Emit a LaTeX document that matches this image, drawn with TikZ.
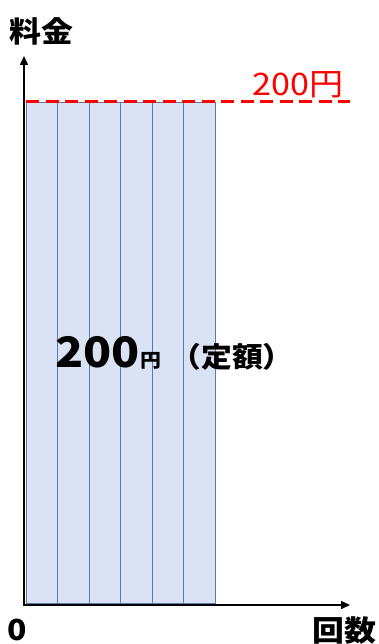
\documentclass[tikz,border=0pt]{standalone}
\usepackage{fontspec}
\setmainfont{Noto Sans CJK JP}[FakeStretch=1.1]
\usetikzlibrary{arrows.meta,calc}
\definecolor{barfill}{HTML}{DAE3F3}
\definecolor{barline}{HTML}{5A7BA8}
\tikzset{
  bar/.style={draw=barline, line width=0.8pt, fill=barfill},
  axis/.style={line width=1.5pt, -{Triangle[length=9pt,width=8pt]}},
  lbl/.style={inner sep=0pt, font=\bfseries\fontsize{29}{29}\selectfont},
  redline/.style={draw=red, line width=3pt, dash pattern=on 13pt off 6.5pt},
}
\begin{document}
\begin{tikzpicture}[x=1pt,y=-1pt]
\useasboundingbox (0,0) rectangle (378,644);
% bars
\foreach \i in {0,...,5}{
  \draw[bar] ({26+\i*31.5},102) rectangle ({26+(\i+1)*31.5},603);
}
% axes
\coordinate (o) at (24,605);
\coordinate (ytop) at (24,56);
\coordinate (xend) at (350,605);
\draw[axis] (24,606) -- (ytop);
\draw[axis] (23.2,605) -- (xend);
% red dashed line
\coordinate (r1) at (26,102);
\coordinate (r2) at (350,102);
\draw[redline] (r1) -- (r2);
\node[inner sep=0pt, text=red, font=\fontsize{31}{31}\selectfont, anchor=base] (p200) at (298,96) {200円};
% labels
\node[lbl, anchor=base] (ryokin) at (41,43) {料金};
\node[lbl, anchor=base] (zero) at (17,640) {0};
\node[lbl, anchor=base] (kaisu) at (344,641) {回数};
% center text
\node[inner sep=0pt, anchor=base west] (main) at (55,367)
  {{\bfseries\fontsize{42}{42}\selectfont 200}\hspace{1pt}{\bfseries\fontsize{19}{19}\selectfont 円}\hspace{9pt}{\bfseries\fontsize{28}{28}\selectfont （定額）}};
\end{tikzpicture}
\end{document}
